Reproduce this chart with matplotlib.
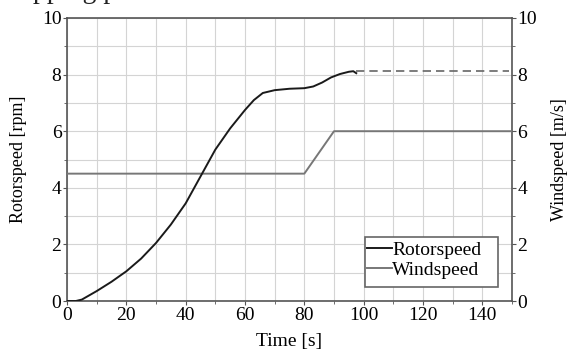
import numpy as np
import matplotlib
matplotlib.use("Agg")
import matplotlib.pyplot as plt
from matplotlib.patches import Rectangle
from matplotlib.ticker import MultipleLocator

plt.rcParams["font.family"] = ["Liberation Serif", "DejaVu Serif"]

# Rotorspeed [rpm] (solid part)
rotor_t = [0, 3, 5, 10, 15, 20, 25, 30, 35, 40, 45, 50, 55, 60, 63, 66, 70,
           75, 80, 83, 86, 89, 92, 95, 96.5, 97.5]
rotor_v = [0.0, 0.0, 0.05, 0.35, 0.68, 1.05, 1.5, 2.05, 2.7, 3.45, 4.4, 5.35,
           6.1, 6.75, 7.1, 7.35, 7.45, 7.5, 7.52, 7.58, 7.72, 7.9, 8.02, 8.1,
           8.12, 8.05]
# Rotorspeed after the simulation stops (dashed)
rotor_dash_t = [97.5, 149]
rotor_dash_v = [8.13, 8.13]

# Windspeed [m/s]
wind_t = [0, 80, 90, 150]
wind_v = [4.5, 4.5, 6.0, 6.0]

FS = 14

fig = plt.figure(figsize=(5.7, 3.58), dpi=100)
ax = fig.add_axes([67 / 570, 1 - 301 / 358, 445 / 570, 283 / 358])

ax.plot(rotor_t, rotor_v, color="#1a1a1a", lw=1.4, label="Rotorspeed", zorder=4)
ax.plot(rotor_dash_t, rotor_dash_v, color="#666666", lw=1.2,
        linestyle=(0, (5, 3)), zorder=4)
ax.plot(wind_t, wind_v, color="#777777", lw=1.4, label="Windspeed", zorder=3)

ax.set_xlim(0, 150)
ax.set_ylim(0, 10)
ax.xaxis.set_major_locator(MultipleLocator(20))
ax.xaxis.set_minor_locator(MultipleLocator(10))
ax.yaxis.set_major_locator(MultipleLocator(2))
ax.yaxis.set_minor_locator(MultipleLocator(1))
ax.grid(which="both", color="#d4d4d4", lw=0.8)
ax.set_axisbelow(True)

for s in ax.spines.values():
    s.set_color("#555555")
    s.set_linewidth(1.2)

ax.tick_params(which="both", direction="out", color="#555555", labelsize=FS,
               pad=1)
ax.tick_params(which="major", length=3)
ax.tick_params(which="minor", length=2)

ax.set_xlabel("Time [s]", fontsize=FS, labelpad=7)
ax.set_ylabel("Rotorspeed [rpm]", fontsize=13, labelpad=11)

ax2 = ax.twinx()
ax2.set_ylim(0, 10)
ax2.yaxis.set_major_locator(MultipleLocator(2))
ax2.yaxis.set_minor_locator(MultipleLocator(1))
ax2.tick_params(which="both", direction="out", color="#555555", labelsize=FS,
                pad=1)
ax2.tick_params(which="major", length=3)
ax2.tick_params(which="minor", length=2)
for s in ax2.spines.values():
    s.set_visible(False)
ax2.set_ylabel("Windspeed [m/s]", fontsize=13, labelpad=10, rotation=90)

# legend text without frame, frame drawn as a wider box (extra right padding)
leg = ax.legend(loc="lower right", bbox_to_anchor=(0.937, 0.068),
                fontsize=FS, handlelength=1.3, handletextpad=0.0,
                borderpad=0.15, labelspacing=0.12, frameon=False,
                borderaxespad=0)
leg.set_zorder(6)
ax.add_patch(Rectangle((0.6697, 0.0495), 0.2989, 0.1767,
                       transform=ax.transAxes, facecolor="white",
                       edgecolor="#666666", lw=1.2, zorder=5))

# clipped caption fragment at the very top
fig.text(33 / 570, 1 + 1.5 / 358, "pping p", fontsize=20, va="baseline",
         color="#222222")

fig.savefig("out.png", dpi=100)
